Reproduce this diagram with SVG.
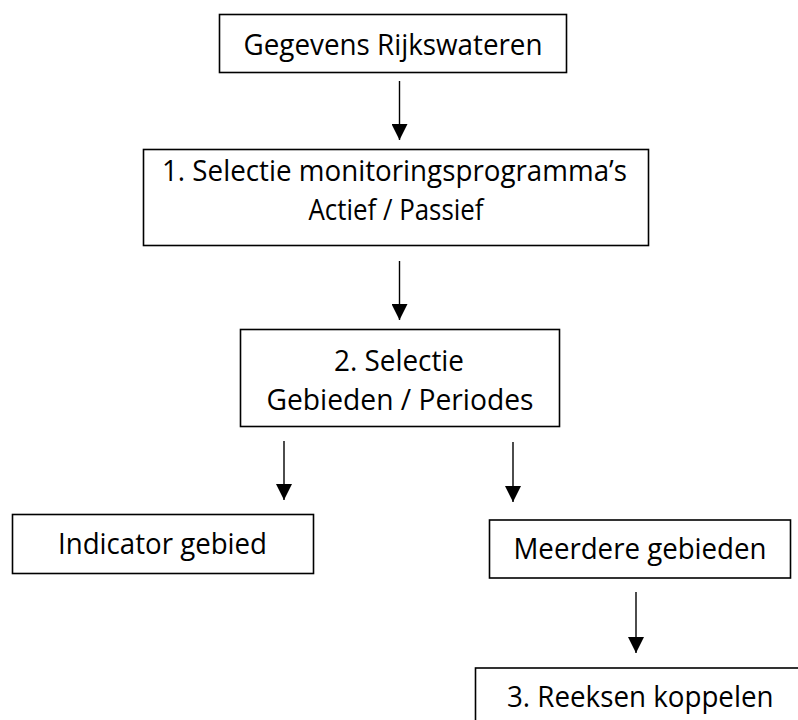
<svg xmlns="http://www.w3.org/2000/svg" width="798" height="720" viewBox="0 0 798 720">
<defs>
<style>
.box{fill:#fff;stroke:#000;stroke-width:1.6}
.t{font-family:"Open Sans","Noto Sans","Liberation Sans",sans-serif;font-size:30px;fill:#000}
.c{stroke:#000;stroke-width:1.4;fill:none}
</style>
<marker id="ah" viewBox="0 0 16 16" refX="16" refY="8" markerWidth="16" markerHeight="16" markerUnits="userSpaceOnUse" orient="auto">
<path d="M0,0 L16,8 L0,16 Z" fill="#000"/>
</marker>
</defs>
<rect width="798" height="720" fill="#fff"/>
<g id="connectors">
<line class="c" x1="399.5" y1="81" x2="399.5" y2="140" marker-end="url(#ah)"/>
<line class="c" x1="399.5" y1="261" x2="399.5" y2="320" marker-end="url(#ah)"/>
<line class="c" x1="284" y1="441" x2="284" y2="500" marker-end="url(#ah)"/>
<line class="c" x1="513" y1="442" x2="513" y2="502" marker-end="url(#ah)"/>
<line class="c" x1="636" y1="592" x2="636" y2="653" marker-end="url(#ah)"/>
</g>
<g id="n-gegevens">
<rect class="box" x="219.5" y="14.5" width="347" height="58"/>
<text class="t" x="243.5" y="55" textLength="299" lengthAdjust="spacingAndGlyphs">Gegevens Rijkswateren</text>
</g>
<g id="n-selectie1">
<rect class="box" x="143.5" y="149.5" width="505" height="96"/>
<text class="t" x="162" y="180.5" textLength="465" lengthAdjust="spacingAndGlyphs">1. Selectie monitoringsprogramma’s</text>
<text class="t" x="308.5" y="220" textLength="175" lengthAdjust="spacingAndGlyphs">Actief / Passief</text>
</g>
<g id="n-selectie2">
<rect class="box" x="240.5" y="329.5" width="319" height="97"/>
<text class="t" x="334" y="371" textLength="130" lengthAdjust="spacingAndGlyphs">2. Selectie</text>
<text class="t" x="266.5" y="410" textLength="267" lengthAdjust="spacingAndGlyphs">Gebieden / Periodes</text>
</g>
<g id="n-indicator">
<rect class="box" x="12.5" y="514.5" width="301" height="59"/>
<text class="t" x="58" y="553.5" textLength="209" lengthAdjust="spacingAndGlyphs">Indicator gebied</text>
</g>
<g id="n-meerdere">
<rect class="box" x="489.5" y="520" width="301" height="58"/>
<text class="t" x="513.5" y="558.5" textLength="253" lengthAdjust="spacingAndGlyphs">Meerdere gebieden</text>
</g>
<g id="n-reeksen">
<rect class="box" x="475.5" y="668" width="330" height="60"/>
<text class="t" x="507" y="706.5" textLength="266.5" lengthAdjust="spacingAndGlyphs">3. Reeksen koppelen</text>
</g>
</svg>
